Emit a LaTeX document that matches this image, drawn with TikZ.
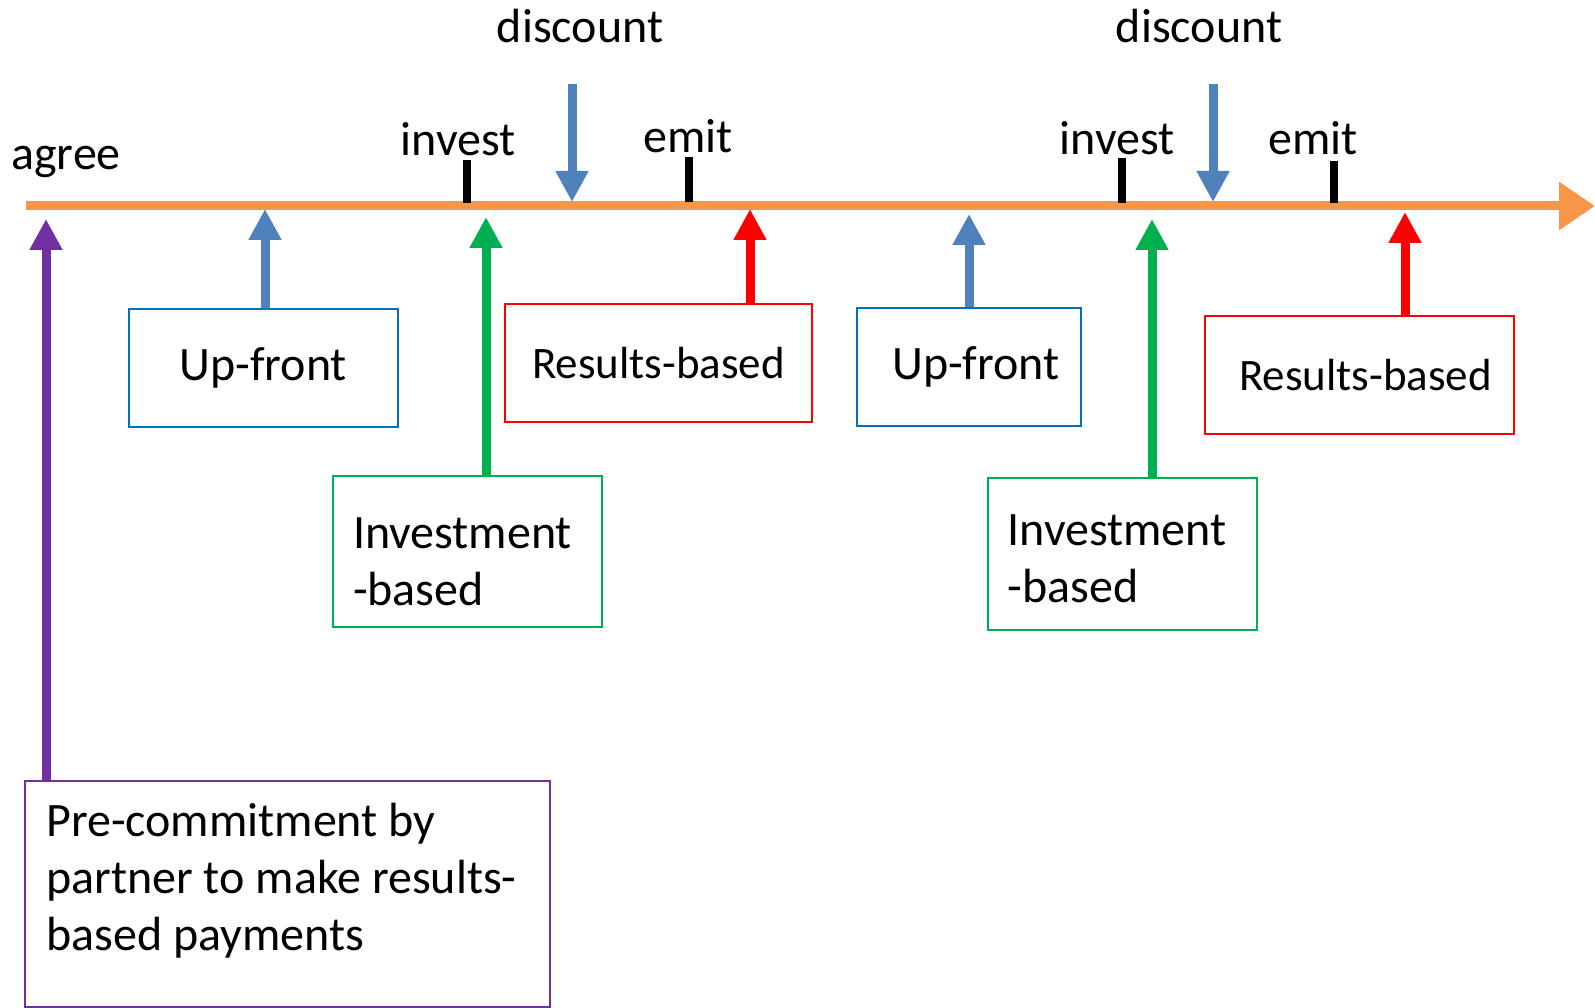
\documentclass[tikz,border=0pt]{standalone}
\usepackage{fontspec}
\setmainfont{Carlito}
\usetikzlibrary{arrows.meta}
\definecolor{tlorange}{HTML}{F79646}
\definecolor{arrblue}{HTML}{4F81BD}
\definecolor{boxblue}{HTML}{0070C0}
\definecolor{mygreen}{HTML}{00B050}
\definecolor{myred}{HTML}{FF0000}
\definecolor{mypurple}{HTML}{7030A0}
\begin{document}
\begin{tikzpicture}[x=1pt,y=-1pt,
  txt/.style={font=\fontsize{48}{57}\selectfont, inner sep=0pt},
  lbl/.style={txt, anchor=base},
  boxbase/.style={txt, draw, line width=2pt, rectangle},
  bluebox/.style={boxbase, draw=boxblue},
  greenbox/.style={boxbase, draw=mygreen, align=left, text width=229pt, inner xsep=20pt},
  redbox/.style={boxbase, draw=myred, font=\fontsize{45}{54}\selectfont},
  purplebox/.style={boxbase, draw=mypurple},
  timeline/.style={draw=tlorange, line width=9pt, -{Triangle[width=46pt,length=36pt]}},
  uparr/.style={line width=9pt, -{Triangle[width=31pt,length=31pt]}},
  tickmark/.style={draw=black, line width=8pt},
]
\useasboundingbox (0,0) rectangle (1595,1008);

% timeline
\coordinate (tl0) at (26,206);
\coordinate (tl1) at (1595,206);
\draw[timeline] (tl0) -- (tl1);

% ticks
\draw[tickmark] (467,160) -- (467,203);
\draw[tickmark] (689,157) -- (689,202);
\draw[tickmark] (1122,158) -- (1122,203);
\draw[tickmark] (1334,161) -- (1334,203);

% labels
\node[lbl] (agree) at (66,170) {agree};
\node[lbl] (inv1l) at (458,156) {invest};
\node[lbl] (emit1l) at (688,153) {emit};
\node[lbl] (disc1l) at (580,43) {discount};
\node[lbl] (inv2l) at (1117,155) {invest};
\node[lbl] (emit2l) at (1313,155) {emit};
\node[lbl] (disc2l) at (1199,43) {discount};

% boxes
\node[bluebox, minimum width=269pt, minimum height=118pt] (upf1) at (263.5,368) {Up-front};
\node[greenbox, minimum height=151pt] (inv1) at (467.5,551.5) {\rule{0pt}{52pt}Investment\\-based};
\node[redbox, minimum width=307pt, minimum height=118pt] (res1) at (658.5,363) {Results-based};
\node[bluebox, minimum width=224pt, minimum height=118pt] (upf2) at (969,367) {\hspace*{14pt}Up-front};
\node[greenbox, minimum height=152pt] (inv2) at (1122,554) {\rule{0pt}{40pt}Investment\\-based};
\node[redbox, minimum width=309pt, minimum height=118pt] (res2) at (1359.5,375) {\hspace*{12pt}Results-based};
\node[purplebox, minimum width=525pt, minimum height=226pt] (pc) at (287.5,894) {};
\node[txt, anchor=north west, align=left] (pctext) at (46,803) {Pre-commitment by\\partner to make results-\\based payments};

% arrow tips on the timeline
\coordinate (pt) at (46,219);
\coordinate (u1) at (265,209);
\coordinate (g1) at (486,217);
\coordinate (r1) at (750,209);
\coordinate (u2) at (969,214);
\coordinate (g2) at (1152,219);
\coordinate (r2) at (1405,212);
\coordinate (d1s) at (572,84);
\coordinate (d1e) at (572,202);
\coordinate (d2s) at (1213,84);
\coordinate (d2e) at (1213,202);

% connectors
\draw[uparr, draw=mypurple] (pc.north -| pt) -- (pt);
\draw[uparr, draw=arrblue] (upf1.north -| u1) -- (u1);
\draw[uparr, draw=mygreen] (inv1.north -| g1) -- (g1);
\draw[uparr, draw=myred] (res1.north -| r1) -- (r1);
\draw[uparr, draw=arrblue] (upf2.north -| u2) -- (u2);
\draw[uparr, draw=mygreen] (inv2.north -| g2) -- (g2);
\draw[uparr, draw=myred] (res2.north -| r2) -- (r2);
\draw[uparr, draw=arrblue] (d1s) -- (d1e);
\draw[uparr, draw=arrblue] (d2s) -- (d2e);
\end{tikzpicture}
\end{document}
